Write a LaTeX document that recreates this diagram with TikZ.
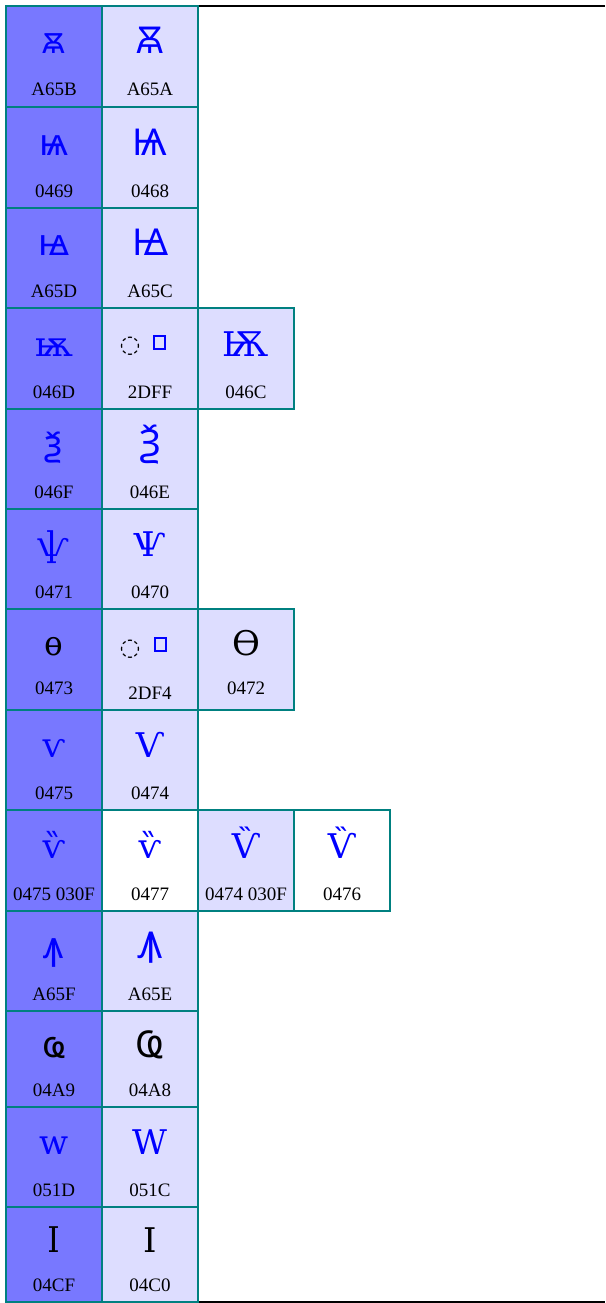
\documentclass[tikz,border=0pt]{standalone}
\usepackage{fontspec}
\setmainfont{Liberation Serif}
\newfontfamily\gfont{DejaVu Serif}
\newfontfamily\gsans{Noto Sans}
\newfontfamily\symfont{DejaVu Sans}
\definecolor{tealb}{RGB}{0,128,128}
\definecolor{darkcell}{RGB}{120,120,255}
\definecolor{lightcell}{RGB}{221,221,255}
\definecolor{glyphblue}{RGB}{0,0,255}
\newcommand\mycell[9]{%
  \node[cellbox,#5,minimum height={#4-#3}] (#1) at ({#2+48},{(#3+#4)/2}) {};
  \node[glyph,#8] (#1g) at ({#2+48},{#4-53}) {#6};
  \node[lbl,#9] (#1l) at ({#2+48},{#4-11}) {#7};
}
\begin{document}
\begin{tikzpicture}[x=1pt,y=-1pt,
  cellbox/.style={draw=tealb, line width=2.2pt, minimum width=96pt, inner sep=0pt, outer sep=0pt},
  dark/.style={fill=darkcell}, light/.style={fill=lightcell}, blank/.style={fill=white},
  glyph/.style={anchor=base, inner sep=0pt, font=\gfont\fontsize{34}{34}\selectfont, text=glyphblue},
  alt/.style={font=\gsans\fontsize{37}{37}\selectfont},
  blk/.style={text=black},
  lbl/.style={anchor=base, inner sep=0pt, font=\fontsize{19}{19}\selectfont, text=black},
  tofu/.style={draw=glyphblue, line width=1.5pt, inner sep=0pt, minimum width=11pt, minimum height=13pt},
  dotc/.style={anchor=center, inner sep=0pt, font=\symfont\fontsize{24}{24}\selectfont, text=black}]
\useasboundingbox (0,0) rectangle (605,1303);
\coordinate (ftl) at (6,6);
\coordinate (ftr) at (605,6);
\coordinate (fbl) at (6,1302);
\coordinate (fbr) at (605,1302);
\draw[line width=2.4pt] (ftl) -- (ftr);
\draw[line width=2.4pt] (fbl) -- (fbr);
% row 1
\mycell{a1}{6}{6}{107}{dark}{ꙛ}{A65B}{alt}{}
\mycell{b1}{102}{6}{107}{light}{Ꙛ}{A65A}{alt}{}
% row 2
\mycell{a2}{6}{107}{208}{dark}{ѩ}{0469}{alt}{}
\mycell{b2}{102}{107}{208}{light}{Ѩ}{0468}{alt}{}
% row 3
\mycell{a3}{6}{208}{308}{dark}{ꙝ}{A65D}{alt}{}
\mycell{b3}{102}{208}{308}{light}{Ꙝ}{A65C}{alt}{}
% row 4
\mycell{a4}{6}{308}{409}{dark}{ѭ}{046D}{}{}
\mycell{b4}{102}{308}{409}{light}{}{2DFF}{}{}
\node[dotc] (b4c) at (130,346) {◌};
\node[tofu] (b4t) at (159.5,342.5) {};
\mycell{c4}{198}{308}{409}{light}{Ѭ}{046C}{}{}
% row 5
\mycell{a5}{6}{409}{509}{dark}{ѯ}{046F}{alt}{}
\mycell{b5}{102}{409}{509}{light}{Ѯ}{046E}{alt}{}
% row 6
\mycell{a6}{6}{509}{609}{dark}{ѱ}{0471}{}{}
\mycell{b6}{102}{509}{609}{light}{Ѱ}{0470}{}{}
% row 7
\mycell{a7}{6}{609}{710}{dark}{ѳ}{0473}{blk,yshift=2pt}{yshift=5pt}
\mycell{b7}{102}{609}{710}{light}{}{2DF4}{}{}
\node[dotc] (b7c) at (130,649) {◌};
\node[tofu] (b7t) at (160.5,644.5) {};
\mycell{c7}{198}{609}{710}{light}{Ѳ}{0472}{blk,yshift=2pt}{yshift=5pt}
% row 8
\mycell{a8}{6}{710}{810}{dark}{ѵ}{0475}{}{}
\mycell{b8}{102}{710}{810}{light}{Ѵ}{0474}{}{}
% row 9
\mycell{a9}{6}{810}{911}{dark}{ѷ}{0475 030F}{}{}
\mycell{b9}{102}{810}{911}{blank}{ѷ}{0477}{}{}
\mycell{c9}{198}{810}{911}{light}{Ѷ}{0474 030F}{}{}
\mycell{d9}{294}{810}{911}{blank}{Ѷ}{0476}{}{}
% row 10
\mycell{a10}{6}{911}{1011}{dark}{ꙟ}{A65F}{alt}{}
\mycell{b10}{102}{911}{1011}{light}{Ꙟ}{A65E}{alt}{}
% row 11
\mycell{a11}{6}{1011}{1107}{dark}{ҩ}{04A9}{alt,blk,yshift=-3pt}{}
\mycell{b11}{102}{1011}{1107}{light}{Ҩ}{04A8}{alt,blk,yshift=-3pt}{}
% row 12
\mycell{a12}{6}{1107}{1207}{dark}{ԝ}{051D}{}{}
\mycell{b12}{102}{1107}{1207}{light}{Ԝ}{051C}{}{}
% row 13
\mycell{a13}{6}{1207}{1302}{dark}{ӏ}{04CF}{blk,yshift=-3pt}{}
\mycell{b13}{102}{1207}{1302}{light}{Ӏ}{04C0}{blk,yshift=-3pt}{}
\end{tikzpicture}
\end{document}
